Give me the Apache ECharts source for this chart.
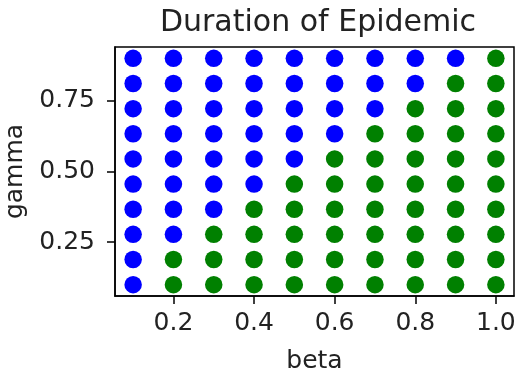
<!DOCTYPE html>
<html>
<head>
<meta charset="utf-8">
<script src="https://cdn.jsdelivr.net/npm/echarts@6/dist/echarts.min.js"></script>
<style>
  html, body { margin: 0; padding: 0; background: #fff; }
  #chart { width: 517px; height: 371px; }
</style>
</head>
<body>
<div id="chart"></div>
<script>
// beta along x, gamma along y
const betas = [0.1, 0.2, 0.3, 0.4, 0.5, 0.6, 0.7, 0.8, 0.9, 1.0];
const gammas = [0.1, 0.1889, 0.2778, 0.3667, 0.4556, 0.5444, 0.6333, 0.7222, 0.8111, 0.9];
// one row per gamma (bottom to top), one letter per beta: B = blue, G = green
const outcomeRows = [
  'BGGGGGGGGG',
  'BGGGGGGGGG',
  'BBGGGGGGGG',
  'BBBGGGGGGG',
  'BBBBGGGGGG',
  'BBBBBGGGGG',
  'BBBBBBGGGG',
  'BBBBBBBGGG',
  'BBBBBBBBGG',
  'BBBBBBBBBG'
];
const xTicks = [0.2, 0.4, 0.6, 0.8, 1.0];
const yTicks = [0.25, 0.5, 0.75];

const bluePts = [];
const greenPts = [];
gammas.forEach((g, i) => {
  betas.forEach((b, j) => {
    if (outcomeRows[i][j] === 'B') bluePts.push([b, g]);
    else greenPts.push([b, g]);
  });
});

const chart = echarts.init(document.getElementById('chart'));
const txt = '#222';
const font = 'DejaVu Sans';

const option = {
  animation: false,
  title: {
    text: 'Duration of Epidemic',
    left: 313,
    textAlign: 'center',
    top: 3,
    textStyle: { fontFamily: font, fontSize: 30, fontWeight: 'normal', color: txt }
  },
  grid: {
    left: 115, right: 3, top: 47, bottom: 75,
    outerBoundsMode: 'none',
    containLabel: false,
    show: true, borderColor: '#000', borderWidth: 1.5, backgroundColor: '#fff'
  },
  xAxis: {
    type: 'value',
    min: 0.055, max: 1.045,
    name: 'beta',
    nameLocation: 'middle',
    nameGap: 53,
    nameTextStyle: { fontFamily: font, fontSize: 25, color: txt },
    splitLine: { show: false },
    axisLine: { show: true, onZero: false, lineStyle: { color: '#000', width: 1.5 } },
    axisTick: { show: true, length: 8, lineStyle: { color: '#000', width: 1.5 }, customValues: xTicks },
    axisLabel: {
      fontFamily: font, fontSize: 25, color: txt, margin: 15,
      customValues: xTicks,
      formatter: v => v.toFixed(1)
    }
  },
  yAxis: {
    type: 'value',
    min: 0.06, max: 0.94,
    name: 'gamma',
    nameLocation: 'middle',
    nameGap: 83,
    nameRotate: 90,
    nameTextStyle: { fontFamily: font, fontSize: 25, color: txt },
    splitLine: { show: false },
    axisLine: { show: true, onZero: false, lineStyle: { color: '#000', width: 1.5 } },
    axisTick: { show: true, length: 8, lineStyle: { color: '#000', width: 1.5 }, customValues: yTicks },
    axisLabel: {
      fontFamily: font, fontSize: 25, color: txt, margin: 20,
      customValues: yTicks,
      formatter: v => v.toFixed(2)
    }
  },
  series: [
    {
      name: 'blue',
      type: 'scatter',
      data: bluePts,
      symbolSize: 17.5,
      itemStyle: { color: '#0000ff', opacity: 1 }
    },
    {
      name: 'green',
      type: 'scatter',
      data: greenPts,
      symbolSize: 17.5,
      itemStyle: { color: '#008000', opacity: 1 }
    }
  ]
};
chart.setOption(option);
</script>
</body>
</html>
